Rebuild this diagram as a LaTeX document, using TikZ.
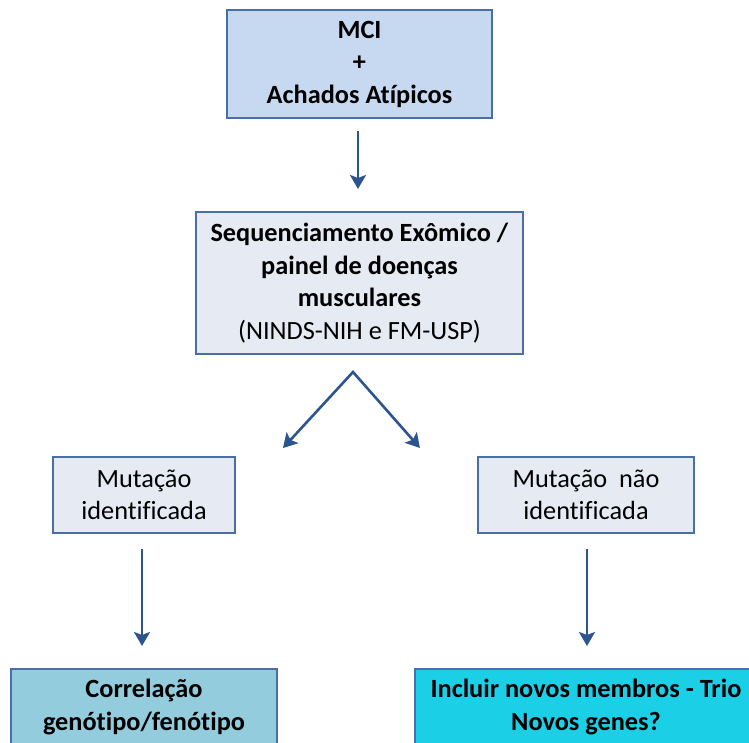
\documentclass[tikz,border=0pt]{standalone}
\usepackage{fontspec}
\setmainfont[Ligatures=NoCommon]{Carlito}
\usepackage{xcolor}
\usetikzlibrary{arrows.meta}
\usetikzlibrary{calc}
\usetikzlibrary{positioning}
\definecolor{boxline}{HTML}{4A6FA5}
\definecolor{arrowblue}{HTML}{2C5590}
\definecolor{mcifill}{HTML}{C6D9F1}
\definecolor{greyfill}{HTML}{E6EAF2}
\definecolor{tealfill}{HTML}{93CDDD}
\definecolor{cyanfill}{HTML}{1BCFE7}

\begin{document}
\begin{tikzpicture}[x={(1pt,0)},y={(0,-1pt)},
    box/.style={draw=boxline,line width=2pt,inner sep=0pt,align=center,
      font=\fontsize{26.3}{32.5}\selectfont},
    arr/.style={draw=arrowblue,line width=2.6pt,-{Stealth[length=14pt,width=16pt,inset=3pt]}},
    splitarr/.style={draw=arrowblue,line width=2.6pt,
      {Stealth[length=14pt,width=16pt,inset=3pt]}-{Stealth[length=14pt,width=16pt,inset=3pt]}}]
    \clip (0,0) rectangle (749,742);

    % BOXES
    \node[box,fill=mcifill,minimum width=265pt,minimum height=108pt] (mci) at (359.5,64)
      {\textbf{MCI}\\\textbf{+}\\\textbf{Achados Atípicos}};
    \node[box,fill=greyfill,minimum width=327pt,minimum height=142pt] (seq) at (359.5,283)
      {\textbf{Sequenciamento Exômico /}\\\textbf{painel de doenças}\\\textbf{musculares}\\(NINDS-NIH e FM-USP)};
    \node[box,fill=greyfill,minimum width=182pt,minimum height=76pt] (mutsim) at (144,495)
      {Mutação\\identificada};
    \node[box,fill=greyfill,minimum width=216pt,minimum height=76pt] (mutnao) at (586,495)
      {Mutação~~não\\identificada};
    \node[box,fill=tealfill,minimum width=266pt,minimum height=76pt] (corr) at (144,707)
      {\textbf{Correlação}\\\textbf{genótipo/fenótipo}};
    \node[box,fill=cyanfill,minimum width=342pt,minimum height=76pt] (trio) at (586,707)
      {\textbf{Incluir novos membros - Trio}\\\textbf{Novos genes?}};

    % ARROWS
    \coordinate (split) at (353,372);
    \coordinate (tipL) at (283,448);
    \coordinate (tipR) at (420,448);
    \draw[arr,shorten <=12pt,shorten >=22pt] (mci.south -| 358,0) -- (seq.north -| 358,0);
    \draw[splitarr] (tipL) -- (split) -- (tipR);
    \draw[arr,shorten <=15pt,shorten >=22pt] (mutsim.south -| 142,0) -- (corr.north -| 142,0);
    \draw[arr,shorten <=15pt,shorten >=22pt] (mutnao.south -| 587,0) -- (trio.north -| 587,0);
  \end{tikzpicture}
\end{document}
